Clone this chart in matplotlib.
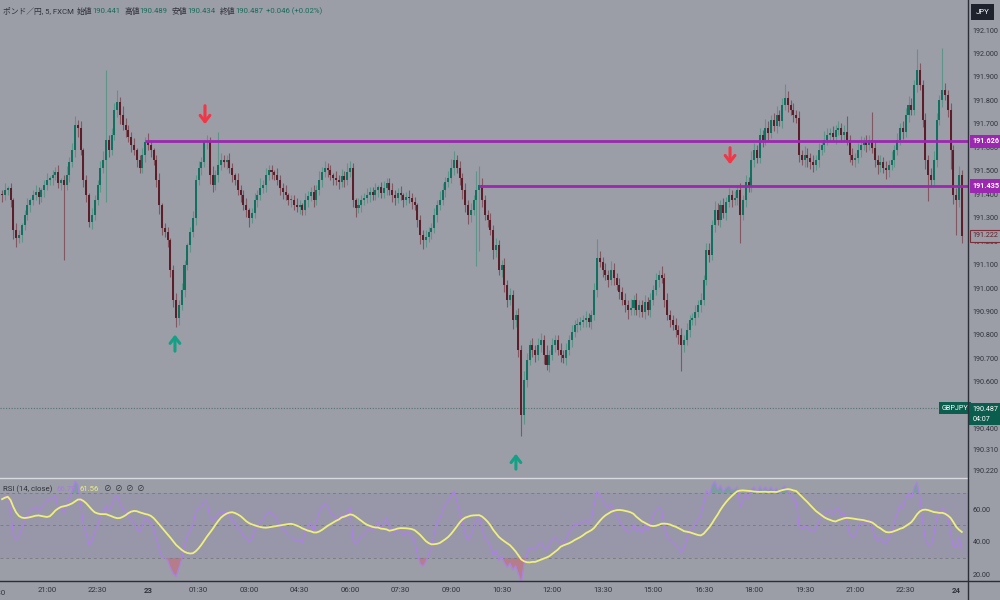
import numpy as np
import pandas as pd
import matplotlib
matplotlib.use('Agg')
import matplotlib.pyplot as plt
from matplotlib import font_manager

plt.rcParams['font.family'] = ['Roboto', 'Noto Sans CJK JP', 'DejaVu Sans']
try:
    font_manager.findfont('Liberation Sans Narrow', fallback_to_default=False)
    NUM_FONT = ['Liberation Sans Narrow', 'DejaVu Sans']
except ValueError:
    NUM_FONT = ['Roboto', 'DejaVu Sans']

# 5 minute GBP/JPY candles, 19:40 (22nd) .. 00:10 (24th)
first_open = 191.400
closes = [
    191.397, 191.418, 191.427, 191.375, 191.247, 191.213, 191.226, 191.269, 191.311, 191.354,
    191.375, 191.397, 191.410, 191.388, 191.418, 191.439, 191.461, 191.469, 191.482, 191.495,
    191.448, 191.461, 191.439, 191.482, 191.537, 191.589, 191.695, 191.682, 191.589, 191.461,
    191.397, 191.282, 191.311, 191.375, 191.439, 191.512, 191.546, 191.631, 191.589, 191.653,
    191.759, 191.793, 191.738, 191.695, 191.674, 191.644, 191.610, 191.589, 191.546, 191.512,
    191.567, 191.623, 191.610, 191.589, 191.546, 191.461, 191.354, 191.256, 191.239, 191.205,
    191.077, 190.949, 190.872, 190.928, 190.992, 191.098, 191.184, 191.239, 191.299, 191.461,
    191.512, 191.537, 191.623, 191.623, 191.482, 191.439, 191.482, 191.525, 191.546, 191.537,
    191.546, 191.512, 191.482, 191.461, 191.418, 191.397, 191.354, 191.333, 191.299, 191.320,
    191.375, 191.397, 191.427, 191.439, 191.482, 191.503, 191.495, 191.482, 191.461, 191.427,
    191.410, 191.397, 191.375, 191.375, 191.354, 191.346, 191.354, 191.333, 191.375, 191.392,
    191.410, 191.375, 191.418, 191.461, 191.495, 191.512, 191.503, 191.482, 191.469, 191.461,
    191.452, 191.478, 191.461, 191.495, 191.512, 191.375, 191.341, 191.354, 191.375, 191.384,
    191.397, 191.410, 191.397, 191.418, 191.431, 191.405, 191.427, 191.448, 191.418, 191.397,
    191.384, 191.405, 191.397, 191.375, 191.388, 191.384, 191.367, 191.354, 191.290, 191.226,
    191.205, 191.218, 191.239, 191.256, 191.311, 191.354, 191.375, 191.418, 191.452, 191.469,
    191.512, 191.546, 191.512, 191.469, 191.418, 191.354, 191.311, 191.333, 191.375, 191.418,
    191.439, 191.375, 191.311, 191.290, 191.247, 191.162, 191.184, 191.077, 191.098, 191.013,
    190.949, 190.970, 190.864, 190.885, 190.736, 190.459, 190.608, 190.693, 190.757, 190.736,
    190.715, 190.757, 190.779, 190.715, 190.672, 190.715, 190.757, 190.779, 190.736, 190.715,
    190.702, 190.736, 190.779, 190.813, 190.843, 190.843, 190.855, 190.864, 190.872, 190.855,
    190.885, 190.992, 191.128, 191.111, 191.077, 191.056, 191.034, 191.077, 191.043, 191.013,
    190.983, 190.949, 190.928, 190.907, 190.915, 190.949, 190.907, 190.928, 190.898, 190.941,
    190.907, 190.949, 190.992, 191.034, 191.056, 191.043, 190.949, 190.885, 190.864, 190.843,
    190.821, 190.800, 190.757, 190.779, 190.821, 190.864, 190.872, 190.898, 190.928, 190.949,
    191.034, 191.162, 191.141, 191.269, 191.333, 191.290, 191.354, 191.320, 191.367, 191.397,
    191.375, 191.384, 191.418, 191.311, 191.375, 191.452, 191.431, 191.546, 191.589, 191.554,
    191.653, 191.631, 191.682, 191.661, 191.716, 191.690, 191.738, 191.712, 191.780, 191.810,
    191.780, 191.759, 191.738, 191.725, 191.567, 191.546, 191.567, 191.554, 191.537, 191.525,
    191.546, 191.589, 191.610, 191.631, 191.653, 191.661, 191.644, 191.674, 191.682, 191.653,
    191.665, 191.631, 191.567, 191.546, 191.554, 191.589, 191.610, 191.623, 191.610, 191.631,
    191.597, 191.546, 191.525, 191.537, 191.512, 191.503, 191.525, 191.546, 191.589, 191.631,
    191.682, 191.665, 191.738, 191.780, 191.759, 191.866, 191.930, 191.866, 191.716, 191.546,
    191.482, 191.461, 191.546, 191.716, 191.802, 191.844, 191.823, 191.759, 191.589, 191.397,
    191.375, 191.482, 191.222,
]
# wick lengths in pips (0.01 JPY)
upper_wick = [
    2, 3, 1, 2, 1, 3, 2, 1, 2, 3,  1, 2, 3, 2, 1, 2, 3, 1, 2, 2,
    3, 1, 2, 4, 2, 3, 4, 2, 3, 1,  2, 1, 3, 2, 2, 3, 4, 30, 2, 3,
    3, 5, 2, 4, 3, 2, 2, 3, 1, 2,  3, 2, 4, 2, 1, 2, 3, 1, 2, 2,
    1, 2, 3, 2, 3, 2, 1, 2, 3, 2,  3, 2, 1, 3, 2, 4, 2, 14, 3, 2,
    2, 3, 2, 1, 3, 2, 2, 3, 1, 2,  3, 2, 4, 2, 3, 2, 2, 1, 3, 2,
    2, 3, 1, 2, 2, 3, 2, 1, 3, 2,  2, 3, 2, 4, 2, 3, 2, 2, 1, 3,
    2, 3, 2, 4, 3, 2, 1, 3, 2, 2,  3, 2, 2, 3, 1, 2, 3, 2, 2, 3,
    2, 2, 3, 1, 2, 3, 2, 2, 1, 2,  2, 3, 2, 2, 3, 2, 4, 3, 2, 3,
    4, 4, 2, 3, 2, 3, 2, 3, 2, 8,  8, 3, 2, 2, 3, 2, 3, 2, 2, 3,
    2, 3, 2, 2, 3, 2, 4, 3, 2, 3,  2, 3, 3, 2, 4, 2, 3, 2, 2, 3,
    2, 3, 2, 3, 2, 3, 2, 2, 3, 2,  2, 3, 8, 3, 2, 3, 2, 4, 3, 2,
    3, 2, 3, 2, 4, 2, 3, 2, 2, 3,  2, 3, 2, 3, 2, 4, 2, 3, 2, 2,
    3, 2, 3, 2, 3, 2, 2, 3, 2, 3,  2, 3, 3, 2, 4, 3, 2, 3, 2, 3,
    2, 3, 2, 3, 2, 3, 2, 4, 3, 2,  3, 2, 4, 3, 2, 3, 4, 2, 3, 6,
    3, 2, 3, 2, 3, 2, 4, 3, 2, 3,  2, 3, 2, 4, 3, 2, 3, 2, 3, 2,
    3, 7, 2, 3, 2, 3, 4, 2, 3, 2,  12, 3, 2, 3, 2, 3, 2, 4, 2, 3,
    2, 3, 3, 4, 3, 2, 9, 3, 2, 3,  2, 3, 4, 3, 2, 18, 3, 2, 3, 2,
    3, 4, 2,
]
lower_wick = [
    3, 2, 2, 3, 4, 4, 2, 3, 2, 2,  3, 2, 2, 3, 2, 3, 2, 2, 3, 2,
    2, 3, 32, 2, 3, 2, 3, 4, 2, 3,  3, 2, 3, 2, 2, 3, 2, 18, 3, 2,
    2, 3, 4, 2, 3, 2, 3, 2, 3, 2,  2, 3, 2, 3, 2, 3, 4, 3, 2, 3,
    3, 3, 4, 3, 2, 3, 2, 3, 2, 3,  2, 3, 2, 3, 4, 3, 2, 3, 2, 2,
    3, 2, 3, 2, 2, 3, 2, 3, 4, 2,  2, 3, 2, 2, 3, 2, 3, 2, 2, 3,
    3, 2, 2, 3, 2, 2, 3, 2, 2, 3,  2, 3, 2, 2, 3, 2, 3, 2, 3, 2,
    3, 2, 3, 2, 2, 3, 4, 2, 3, 2,  2, 3, 2, 2, 3, 2, 2, 3, 2, 3,
    3, 2, 2, 3, 2, 2, 3, 2, 3, 4,  4, 3, 2, 3, 2, 3, 2, 2, 3, 2,
    2, 3, 2, 3, 4, 3, 4, 3, 2, 28,  26, 3, 2, 3, 2, 4, 3, 2, 3, 3,
    3, 2, 4, 3, 3, 9, 4, 3, 2, 3,  3, 2, 3, 4, 2, 3, 2, 3, 2, 3,
    2, 3, 2, 3, 2, 3, 2, 2, 3, 2,  3, 2, 3, 2, 3, 2, 3, 2, 3, 2,
    3, 2, 3, 4, 2, 3, 2, 3, 2, 3,  2, 3, 2, 2, 3, 2, 3, 2, 3, 2,
    3, 4, 11, 3, 2, 3, 2, 3, 2, 3,  2, 2, 3, 2, 3, 2, 3, 2, 3, 2,
    3, 2, 3, 12, 2, 3, 2, 2, 3, 2,  2, 3, 2, 3, 2, 2, 3, 2, 3, 2,
    3, 2, 3, 2, 3, 2, 3, 4, 3, 3,  2, 3, 2, 3, 2, 3, 2, 3, 2, 3,
    3, 2, 3, 2, 3, 2, 3, 2, 3, 2,  2, 3, 4, 3, 2, 4, 3, 2, 3, 2,
    2, 3, 2, 3, 2, 2, 3, 2, 3, 4,  11, 3, 2, 3, 2, 3, 2, 3, 8, 4,
    15, 3, 3,
]
# average gain / loss carried in from the history before the window
rsi_seed_gain = 0.020
rsi_seed_loss = 0.010

tick_pos = [16, 34, 52, 70, 88, 106, 124, 142, 160, 178, 196, 214, 232, 250, 268, 286, 304, 322, 340]
tick_labels = ['21:00', '22:30', '23', '01:30', '03:00', '04:30', '06:00', '07:30', '09:00', '10:30',
               '12:00', '13:30', '15:00', '16:30', '18:00', '19:30', '21:00', '22:30', '24']
price_ticks = [192.1, 192.0, 191.9, 191.8, 191.7, 191.6, 191.5, 191.4, 191.3, 191.2, 191.1,
               191.0, 190.9, 190.8, 190.7, 190.6, 190.4, 190.31, 190.22]

levels = [191.626, 191.435]
level_start = [51, 170]
last_close = 191.222
live_price = 190.487

# arrows: (index, tail price, head price)
red_arrows = [(72.3, 191.789, 191.687), (259.4, 191.610, 191.516)]
green_arrows = [(61.6, 190.719, 190.813), (183.1, 190.216, 190.305)]

BG = '#9b9da7'
UP = '#11705f'
DOWN = '#5c1f2a'
PURPLE = '#9c27b0'
TXT = '#2f323b'
GREEN_TXT = '#1b6b5b'
LBL = 5.2

c = np.array(closes)
o = np.concatenate([[first_open], c[:-1]])
hi = np.maximum(o, c) + np.array(upper_wick) * 0.01
lo = np.minimum(o, c) - np.array(lower_wick) * 0.01
idx = np.arange(len(c))
up = c >= o

# Wilder RSI(14) and its 14 SMA
ag, al = rsi_seed_gain, rsi_seed_loss
rsi_vals = []
for dv in c - o:
    ag = (ag * 13 + max(dv, 0)) / 14
    al = (al * 13 + max(-dv, 0)) / 14
    rsi_vals.append(100 - 100 / (1 + ag / al))
rsi = pd.Series(rsi_vals)
rsi_ma = rsi.rolling(14, min_periods=1).mean()

fig = plt.figure(figsize=(10, 6), dpi=100, facecolor=BG)
ax = fig.add_axes([0, 1 - 478/600, 0.968, 478/600], facecolor=BG)
ax2 = fig.add_axes([0, 1 - 581/600, 0.968, 103/600], facecolor=BG, sharex=ax)

# candles
ax.vlines(idx[up], lo[up], hi[up], colors='#5f9488', lw=0.8, zorder=2)
ax.vlines(idx[~up], lo[~up], hi[~up], colors='#815862', lw=0.8, zorder=2)
ax.bar(idx[up], np.maximum(c - o, 0.003)[up], bottom=o[up], width=0.72, color=UP, zorder=3)
ax.bar(idx[~up], np.maximum(o - c, 0.003)[~up], bottom=c[~up], width=0.72, color=DOWN, zorder=3)

for lvl, st in zip(levels, level_start):
    ax.hlines(lvl, st, 345, color=PURPLE, lw=2, zorder=4)
ax.axhline(live_price, color='#56746e', lw=0.8, ls=(0, (1, 1.5)), zorder=1)

for x, y0, y1 in red_arrows:
    ax.annotate('', xy=(x, y1), xytext=(x, y0),
                arrowprops=dict(arrowstyle='->,head_width=0.35,head_length=0.45', lw=2.2, color='#f23645'))
for x, y0, y1 in green_arrows:
    ax.annotate('', xy=(x, y1), xytext=(x, y0),
                arrowprops=dict(arrowstyle='->,head_width=0.35,head_length=0.45', lw=2.2, color='#14a085'))

ax.set_xlim(-0.75, 344.2)
ax.set_ylim(190.190, 192.228)
ax.yaxis.tick_right()
ax.set_yticks(price_ticks)
ax.set_yticklabels(['%.3f' % p for p in price_ticks], family=NUM_FONT)
ax.tick_params(axis='y', length=0, pad=3.5, labelsize=LBL, labelcolor=TXT)
ax.tick_params(axis='x', length=0, labelbottom=False)
for sp in ax.spines.values():
    sp.set_visible(False)

yt = ax.get_yaxis_transform()
for lvl in levels:
    ax.text(1.0045, lvl, '%.3f' % lvl, transform=yt, ha='left', va='center', fontsize=LBL,
            family=NUM_FONT, fontweight='bold', color='white', clip_on=False, zorder=10,
            bbox=dict(boxstyle='square,pad=0.35', fc=PURPLE, ec='none'))
ax.text(1.0045, last_close, '%.3f' % last_close, transform=yt, ha='left', va='center', fontsize=LBL,
        family=NUM_FONT, color=DOWN, clip_on=False, zorder=10,
        bbox=dict(boxstyle='square,pad=0.35', fc=BG, ec='#7a2e3a', lw=0.8))
ax.text(1.0045, live_price + 0.012, '%.3f\n04:07' % live_price, transform=yt, ha='left', va='top',
        fontsize=LBL, family=NUM_FONT, color='white', clip_on=False, zorder=10, linespacing=1.6,
        bbox=dict(boxstyle='square,pad=0.4', fc='#0b5e4e', ec='none'))
ax.text(0.9865, live_price, 'GBPJPY', transform=yt, ha='center', va='center', fontsize=5.2,
        family=NUM_FONT, color='white', zorder=10,
        bbox=dict(boxstyle='square,pad=0.35', fc='#0b5e4e', ec='none'))

fig.canvas.draw()
rend = fig.canvas.get_renderer()


def text_row(y, parts, size):
    px = 3
    for t, col, gap in parts:
        tx = fig.text(px / 1000, y, t, fontsize=size, color=col, va='center', ha='left')
        px += tx.get_window_extent(rend).width + gap


# header
text_row(1 - 11/600, [('ポンド／円, 5, FXCM', TXT, 3), ('始値', TXT, 0), ('190.441', GREEN_TXT, 4),
                      ('高値', TXT, 0), ('190.489', GREEN_TXT, 4), ('安値', TXT, 0),
                      ('190.434', GREEN_TXT, 4), ('終値', TXT, 0), ('190.487', GREEN_TXT, 3),
                      ('+0.046 (+0.02%)', GREEN_TXT, 0)], 5.6)
fig.text(0.9825, 1 - 12/600, 'JPY', fontsize=5.6, color='white', ha='center', va='center',
         bbox=dict(boxstyle='square,pad=0.6', fc='#1e222d', ec='none'))

# RSI panel
ax2.axhspan(30, 70, color='#7e57c2', alpha=0.08, lw=0)
for lvl in (70, 50, 30):
    ax2.axhline(lvl, color='#7b7d88', lw=0.7, ls=(0, (3, 3)))
ax2.plot(idx, rsi, color='#ad80e6', lw=0.9)
ax2.plot(idx, rsi_ma, color='#eef07a', lw=1.3)
ax2.fill_between(idx, rsi, 30, where=rsi < 30, color='#f23645', alpha=0.3, lw=0, interpolate=True)
ax2.fill_between(idx, rsi, 70, where=rsi > 70, color='#089981', alpha=0.2, lw=0, interpolate=True)
ax2.set_ylim(15.8, 79.2)
ax2.yaxis.tick_right()
ax2.set_yticks([20, 40, 60])
ax2.set_yticklabels(['20.00', '40.00', '60.00'], family=NUM_FONT)
ax2.tick_params(axis='y', length=0, pad=3.5, labelsize=LBL, labelcolor=TXT)
ax2.set_xticks(tick_pos)
ax2.set_xticklabels(tick_labels, family=NUM_FONT)
ax2.tick_params(axis='x', length=0, pad=4, labelsize=5.6, labelcolor=TXT)
for lab in ax2.get_xticklabels():
    if lab.get_text() in ('23', '24'):
        lab.set_fontweight('bold')
ax2.text(-2, -0.09, '19:30', transform=ax2.get_xaxis_transform(), ha='center', va='top',
         fontsize=5.6, family=NUM_FONT, color=TXT, clip_on=False)
for sp in ax2.spines.values():
    sp.set_visible(False)

text_row(1 - 489/600, [('RSI (14, close)', TXT, 4), ('66.79', '#a77ddb', 4), ('61.56', '#eef07a', 5),
                       ('⊘', TXT, 3), ('⊘', TXT, 3), ('⊘', TXT, 3), ('⊘', TXT, 0)], 5.6)

# pane separators and price scale border
fig.add_artist(plt.Line2D([0, 0.968], [1 - 478/600] * 2, color='#d8dae0', lw=1))
fig.add_artist(plt.Line2D([0, 1], [1 - 581/600] * 2, color='#2b2e36', lw=1))
fig.add_artist(plt.Line2D([0.968, 0.968], [0, 1], color='#2b2e36', lw=1))

fig.savefig('out.png', dpi=100, facecolor=BG)
